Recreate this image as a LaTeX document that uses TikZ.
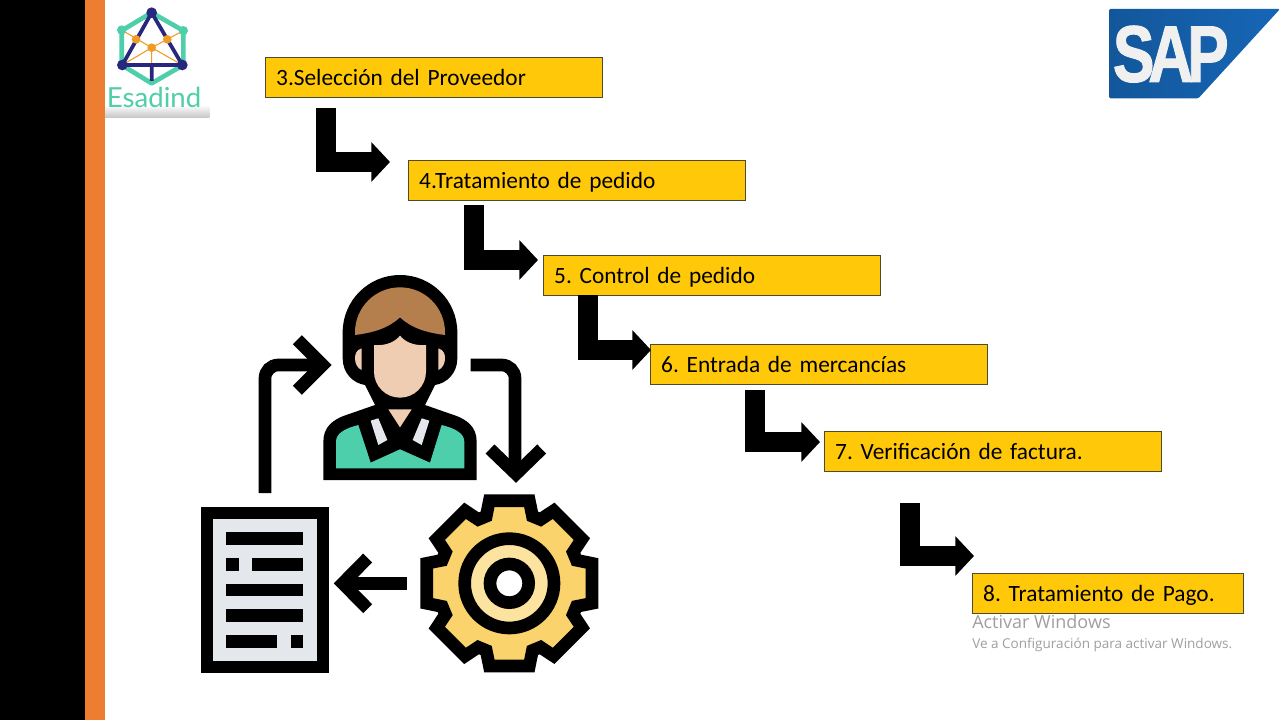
\documentclass[tikz,border=0pt]{standalone}
\usepackage{fontspec}
\setmainfont[WordSpace=0.9]{Carlito}
\newfontfamily\uifont{Open Sans}
\newfontfamily\sapfont[FakeBold=1.5]{Liberation Sans}
\newfontfamily\logofont{Lato}
\usetikzlibrary{arrows.meta}
\definecolor{boxy}{HTML}{FFC90A}
\definecolor{boxline}{HTML}{4F4A2C}
\definecolor{orangebar}{HTML}{ED7D31}
\definecolor{skin}{HTML}{EFCDB2}
\definecolor{hair}{HTML}{B57F4D}
\definecolor{shirt}{HTML}{4ECFAC}
\definecolor{paper}{HTML}{E4E7EC}
\definecolor{gearfill}{HTML}{FBD36C}
\definecolor{gearlight}{HTML}{FDE3A0}
\definecolor{teal}{HTML}{4FCFA9}
\definecolor{navy}{HTML}{27277F}
\definecolor{logoor}{HTML}{EE9D24}
\definecolor{sapblue}{HTML}{1666B6}
\definecolor{wm}{HTML}{9F9F9F}
\tikzset{
  stepbox/.style={draw=boxline,line width=.8pt,fill=boxy,anchor=north west,minimum height=30pt,
    inner ysep=0pt,inner xsep=8pt,text width=237pt,align=left,font=\frenchspacing\fontsize{17.5}{19}\selectfont,
    text height=14.5pt,text depth=2pt},
  larrow/.style={draw=black,line width=15pt,-{Triangle[length=14pt,width=29pt]}},
  blackline/.style={draw=black,line width=9.5pt,line join=miter},
}
\begin{document}
\begin{tikzpicture}[x=.75pt,y=-.75pt]
\useasboundingbox (0,0) rectangle (1280,720);
\fill[white] (0,0) rectangle (1280,720);
\fill[black] (0,0) rectangle (85,720);
\fill[orangebar] (85,0) rectangle (105,720);

% step boxes
\node[stepbox] (b3) at (265,57) {3.Selección del Proveedor};
\node[stepbox] (b4) at (408,160) {4.Tratamiento de pedido};
\node[stepbox] (b5) at (543,255) {5. Control de pedido};
\node[stepbox] (b6) at (650,344) {6. Entrada de mercancías};
\node[stepbox] (b7) at (824,431) {7. Verificación de factura.};
\node[stepbox,text width=187pt] (b8) at (972,573) {8. Tratamiento de Pago.};

% L arrows
\coordinate (a1s) at (326,108); \coordinate (a1e) at (390,162);
\coordinate (a2s) at (474,205); \coordinate (a2e) at (538,260);
\coordinate (a3s) at (588,295); \coordinate (a3e) at (651,350);
\coordinate (a4s) at (755,390); \coordinate (a4e) at (820,442);
\coordinate (a5s) at (910,503); \coordinate (a5e) at (974,556);
\draw[larrow] (a1s) |- (a1e);
\draw[larrow] (a2s) |- (a2e);
\draw[larrow] (a3s) |- (a3e);
\draw[larrow] (a4s) |- (a4e);
\draw[larrow] (a5s) |- (a5e);

% watermark
\node[anchor=base west,inner sep=0pt,text=wm,font=\uifont\fontsize{13.5}{15}\selectfont] (wm1) at (972,628) {Activar Windows};
\node[anchor=base west,inner sep=0pt,text=wm,font=\uifont\fontsize{10.15}{12}\selectfont] (wm2) at (972,648) {Ve a Configuración para activar Windows.};

% person and cycle arrows
\begin{scope}[shift={(250,270)},x=.25pt,y=-.25pt]
  \fill[black] (278,187) arc[start angle=180,end angle=360,radius=172]
    -- (622,265) .. controls (622,310) and (590,340) .. (555,345) -- (525,405) -- (375,405) -- (345,345)
    .. controls (310,340) and (278,310) .. (278,265) -- cycle;
  \fill[hair] (315,195) -- (315,187) arc[start angle=180,end angle=360,radius=135] -- (585,195)
    .. controls (530,188) and (485,175) .. (450,142) .. controls (415,175) and (370,188) .. (315,195) -- cycle;
  \fill[skin] (372,225) .. controls (410,228) and (435,215) .. (450,197) .. controls (465,215) and (490,228) .. (528,225)
    -- (528,305) arc[start angle=0,end angle=180,radius=78] -- cycle;
  \fill[skin] (335,235) .. controls (320,240) and (315,250) .. (315,265) .. controls (315,280) and (322,295) .. (335,300) -- cycle;
  \fill[skin] (565,235) .. controls (580,240) and (585,250) .. (585,265) .. controls (585,280) and (578,295) .. (565,300) -- cycle;
  \fill[black] (220,630) -- (220,515) .. controls (220,470) and (250,450) .. (280,438) -- (375,405) -- (525,405)
    -- (620,438) .. controls (650,450) and (680,470) .. (680,515) -- (680,630) -- cycle;
  \fill[skin] (415,418) -- (485,418) -- (450,472) -- cycle;
  \fill[shirt] (258,595) -- (258,515) .. controls (258,490) and (285,475) .. (325,465) -- (362,578) -- (450,538) -- (540,578)
    -- (575,465) .. controls (615,475) and (643,490) .. (643,515) -- (643,595) -- cycle;
  \fill[paper] (362,452) -- (385,445) -- (412,510) -- (385,525) -- cycle;
  \fill[paper] (538,452) -- (515,445) -- (488,510) -- (515,525) -- cycle;
  % left arrow
  \draw[blackline,rounded corners=10pt] (45,669) -- (45,285) -- (200,285);
  \draw[blackline] (142,209) -- (218,285) -- (142,361);
  % right arrow
  \draw[blackline,rounded corners=10pt] (662,285) -- (795,285) -- (795,600);
  \draw[blackline] (720,537) -- (798,612) -- (875,537);
\end{scope}

% document, gear, arrow
\begin{scope}[shift={(190,485)},x=.25pt,y=-.25pt]
  \fill[black] (32,65) rectangle (417,565);
  \fill[paper] (70,103) rectangle (380,527);
  \fill[black] (108,142) rectangle (340,180);
  \fill[black] (108,219) rectangle (147,257);
  \fill[black] (186,219) rectangle (340,257);
  \fill[black] (108,296) rectangle (340,334);
  \fill[black] (108,373) rectangle (340,411);
  \fill[black] (108,450) rectangle (262,488);
  \fill[black] (302,450) rectangle (340,488);
  % arrow
  \draw[blackline] (650,295) -- (470,295);
  \draw[blackline] (533,219) -- (458,295) -- (533,371);
  % gear
  \begin{scope}[shift={(958,295)}]
    \draw[blackline,fill=gearfill] (-13.6:255)
      \foreach \a in {0,45,...,315} { -- ({\a-13.6}:255) -- ({\a+13.6}:255) -- ({\a+19}:213) -- ({\a+26}:213) } -- cycle;
    \draw[blackline,fill=gearlight] (0,0) circle[radius=134];
    \draw[blackline,fill=white] (0,0) circle[radius=58];
  \end{scope}
\end{scope}

% Esadind logo
\begin{scope}[shift={(90,0)},x=.25pt,y=-.25pt]
  \shade[top color=white,bottom color=black!22] (45,315) rectangle (358,352);
  \draw[teal,line width=3.5pt,line join=round] (185,38) -- (280,92) -- (280,195) -- (185,250) -- (95,195) -- (95,92) -- cycle;
  \draw[logoor,line width=.8pt] (95,90) -- (185,143) -- (280,92) (97,195) -- (185,143) -- (277,195) (185,143) -- (185,195);
  \draw[navy,line width=2.8pt] (185,38) -- (97,195) -- (277,195) -- cycle (185,195) -- (185,243);
  \fill[teal] (95,90) circle[radius=14] (280,92) circle[radius=14];
  \fill[navy] (185,38) circle[radius=16] (97,195) circle[radius=16] (277,195) circle[radius=16];
  \fill[logoor] (138,118) circle[radius=13] (232,118) circle[radius=13] (185,143) circle[radius=13];
  \node[anchor=base west,inner sep=0pt,text=teal,font=\logofont\fontsize{20.7}{22}\selectfont] (esa) at (50,322) {Esadind};
\end{scope}

% SAP logo
\begin{scope}[shift={(1100,0)},x=.25pt,y=-.25pt]
  \shade[left color=sapblue!85!black,right color=sapblue,rounded corners=1pt] (27,27) -- (540,27) -- (295,295) -- (27,295) -- cycle;
  \node[anchor=base west,inner sep=0pt,text=white!94!black,xscale=.78,font=\sapfont\bfseries\fontsize{60}{62}\selectfont] (sap) at (38,245) {S\kern-6pt A\kern-6pt P};
\end{scope}
\end{tikzpicture}
\end{document}
